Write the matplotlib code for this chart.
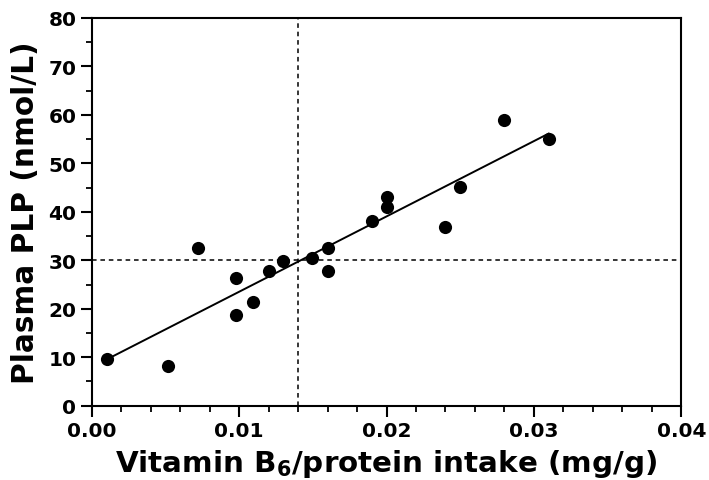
import numpy as np
import matplotlib
matplotlib.use("Agg")
import matplotlib.pyplot as plt
from matplotlib.ticker import MultipleLocator, FormatStrFormatter

plt.rcParams['font.family'] = ['DejaVu Sans']
plt.rcParams['font.weight'] = 'bold'
plt.rcParams['mathtext.fontset'] = 'custom'
plt.rcParams['mathtext.rm'] = 'DejaVu Sans:bold'
plt.rcParams['mathtext.bf'] = 'DejaVu Sans:bold'

# B6 / protein intake (mg/g) and plasma PLP (nmol/L)
b6_intake = [0.00104, 0.0052, 0.0072, 0.00977, 0.00977, 0.01096, 0.0120, 0.0130,
             0.01497, 0.0160, 0.0160, 0.0190, 0.0200, 0.0200, 0.0240, 0.0250,
             0.0280, 0.0310]
plasma_plp = [9.6, 8.1, 32.5, 26.4, 18.7, 21.4, 27.7, 29.9,
              30.5, 32.5, 27.7, 38.2, 43.1, 40.9, 36.8, 45.1,
              59.0, 55.0]

# reference cut-offs
intake_cutoff = 0.014
plp_cutoff = 30

fig = plt.figure(figsize=(7.09, 4.81), dpi=100)
ax = fig.add_axes([0.1293, 0.1545, 0.8317, 0.806])

x = np.array(b6_intake)
y = np.array(plasma_plp)
slope, intercept = np.polyfit(x, y, 1)
xf = np.array([x.min(), x.max()])
ax.plot(xf, slope * xf + intercept, color='black', lw=1.4, zorder=3)

ax.axvline(intake_cutoff, color='black', lw=1.1, ls=(0, (3, 2.5)), zorder=2)
ax.axhline(plp_cutoff, color='black', lw=1.1, ls=(0, (3, 2.5)), zorder=2)

ax.scatter(x, y, s=90, color='black', zorder=4, linewidths=0)

ax.set_xlim(0, 0.04)
ax.set_ylim(0, 80)
ax.xaxis.set_major_locator(MultipleLocator(0.01))
ax.xaxis.set_minor_locator(MultipleLocator(0.002))
ax.yaxis.set_major_locator(MultipleLocator(10))
ax.yaxis.set_minor_locator(MultipleLocator(5))
ax.xaxis.set_major_formatter(FormatStrFormatter('%.2f'))
ax.yaxis.set_major_formatter(FormatStrFormatter('%d'))

for s in ax.spines.values():
    s.set_linewidth(1.5)
ax.tick_params(which='major', length=8, width=1.5, labelsize=14.5, pad=3)
ax.tick_params(which='minor', length=4.5, width=1.3)
for lab in ax.get_xticklabels() + ax.get_yticklabels():
    lab.set_fontweight('bold')

ax.set_xlabel(r'Vitamin B$_{6}$/protein intake (mg/g)', fontsize=21.2, fontweight='bold', labelpad=5)
ax.set_ylabel('Plasma PLP (nmol/L)', fontsize=21.3, fontweight='bold', labelpad=6)

fig.savefig('out.png', dpi=100)
